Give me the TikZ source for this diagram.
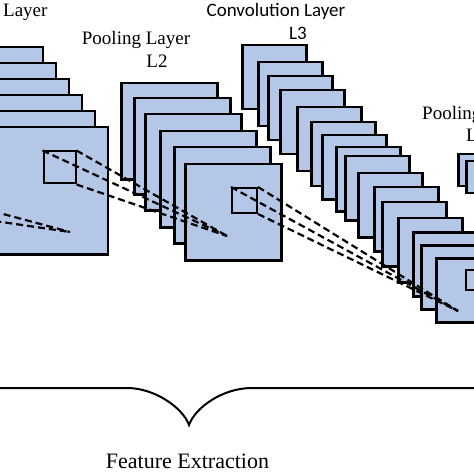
\documentclass[tikz,border=0pt]{standalone}
\usepackage{fontspec}
\setmainfont{Liberation Serif}
\newfontfamily\calibri{Carlito}
\definecolor{mapblue}{RGB}{180,199,231}
\newcommand{\namesize}{\fontsize{19bp}{22bp}\selectfont}

\begin{document}
\begin{tikzpicture}[x=1bp,y=-1bp,
    fmap/.style={draw, line width=2.5bp, fill=mapblue, inner sep=0pt, minimum size=#1},
    window/.style={draw, line width=2bp, inner sep=0pt, minimum size=#1},
    link/.style={dash pattern=on 7bp off 4bp, line width=2.2bp},
    layername/.style={font=\namesize, inner sep=0pt}]
    \useasboundingbox (0,0) rectangle (474,474);
    \clip (0,0) rectangle (474,474);

    % convolution layer L1
    \foreach \k in {0,...,5}
      \node[fmap=127bp, anchor=north east] (c1-\k) at ({44+13*\k},{46+16*\k}) {};
    % pooling layer L2
    \foreach \px/\py [count=\k] in {120/82,133/97,144/113,159/130,173/146,184/163}
      \node[fmap=96bp, anchor=north west] (p2-\k) at (\px,\py) {};
    % convolution layer L3
    \foreach \px/\py [count=\k] in {241/44,257/61,267/75,279/89,296/106,310/121,321/134,335/146,
        344/155,357/172,373/186,381/201,397/217,412/231,420/244,435/257}
      \node[fmap=64bp, anchor=north west] (c3-\k) at (\px,\py) {};
    % pooling layer L4
    \foreach \px/\py [count=\k] in {457/153,465/160}
      \node[fmap=32bp, anchor=north west] (p4-\k) at (\px,\py) {};

    \node[window=32bp] (w1) at (59.5,167.5) {};
    \node[window=25bp] (w2) at (244.5,200.5) {};
    \node[window=20bp, anchor=north west] (w3) at (465,269) {};

    \coordinate (in1) at (-60,197);
    \coordinate (in2) at (-60,213);
    \coordinate (t1) at (70,232);
    \coordinate (t2) at (227,236);
    \coordinate (t3) at (458,311);

    \draw[link] (in1) -- (t1);
    \draw[link] (in2) -- (t1);
    \foreach \a in {north west,north east,south east}{
      \draw[link] (w1.\a) -- (t2);
      \draw[link] (w2.\a) -- (t3);
    }

    \node[layername, anchor=base west] (name1) at (3,17) {Layer};
    \node[layername, anchor=base] (name2) at (136,45) {Pooling Layer};
    \node[layername, anchor=base] (num2) at (157,68) {L2};
    \node[layername, font={\calibri\namesize}, anchor=base] (name3) at (276,17) {Convolution Layer};
    \node[layername, font={\calibri\namesize}, anchor=base] (num3) at (298,40) {L3};
    \node[layername, anchor=base west] (name4) at (422,120) {Pooling Layer};
    \node[layername, anchor=base west] (num4) at (466,142) {L4};

    % brace
    \coordinate (tip) at (189,425);
    \draw[line width=2bp] (0,388) -- (127,388) .. controls (155,388) and (183,408) .. (tip)
      .. controls (195,408) and (222,388) .. (252,388) -- (474,388);
    \node[font=\fontsize{22bp}{26bp}\selectfont, inner sep=0pt, anchor=base] (feat) at (187.5,468) {Feature Extraction};
\end{tikzpicture}
\end{document}
